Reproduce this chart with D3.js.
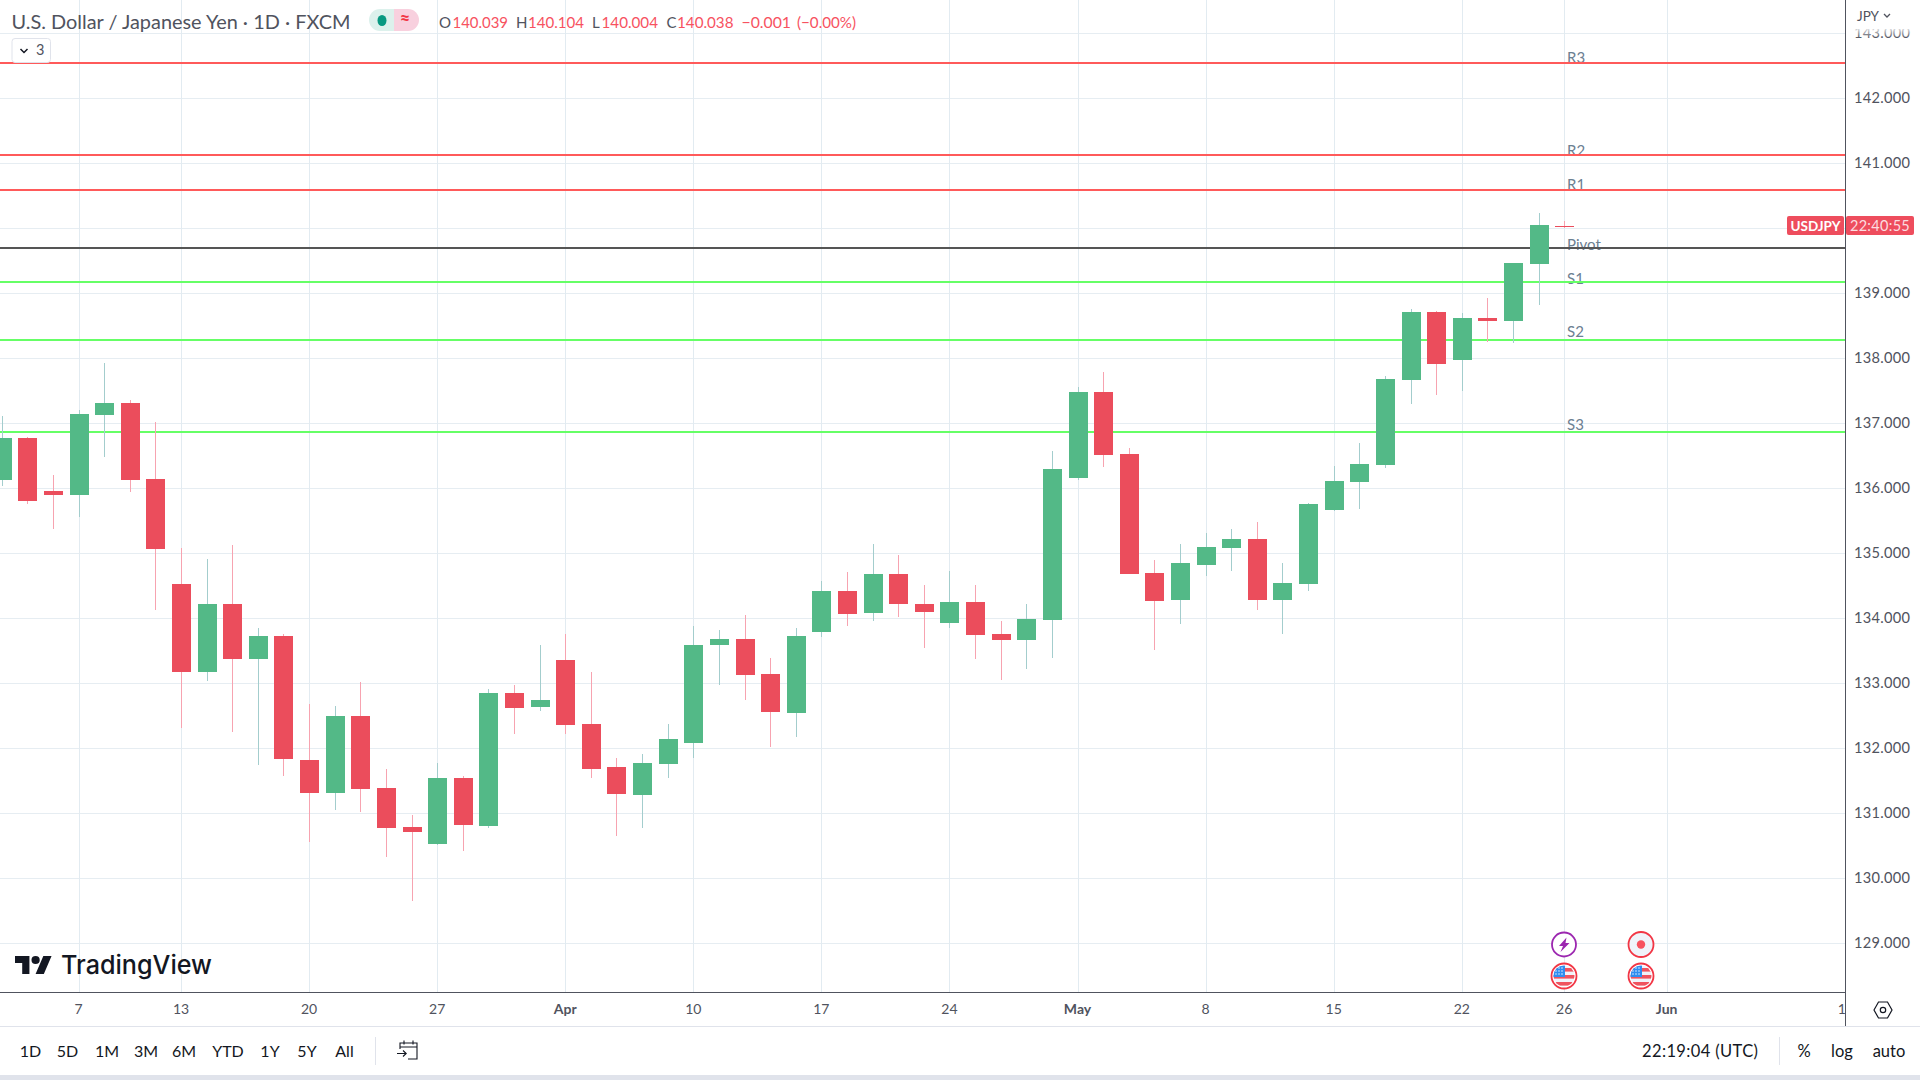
<!DOCTYPE html>
<html><head><meta charset="utf-8">
<style>html,body{margin:0;padding:0;background:#fff;overflow:hidden}svg{display:block}text{font-family:Lato,"Noto Sans",sans-serif}</style>
<script src="https://cdn.jsdelivr.net/npm/d3@7"></script>
</head><body><svg id="c" width="1920" height="1080"></svg>
<script>
const barDates=["03-02","03-03","03-06","03-07","03-08","03-09","03-10","03-13","03-14","03-15","03-16","03-17","03-20","03-21","03-22","03-23","03-24","03-27","03-28","03-29","03-30","03-31","04-03","04-04","04-05","04-06","04-07","04-10","04-11","04-12","04-13","04-14","04-17","04-18","04-19","04-20","04-21","04-24","04-25","04-26","04-27","04-28","05-01","05-02","05-03","05-04","05-05","05-08","05-09","05-10","05-11","05-12","05-15","05-16","05-17","05-18","05-19","05-22","05-23","05-24","05-25","05-26"];
const futureDates=["05-29","05-30","05-31","06-01","06-02","06-05","06-06","06-07","06-08","06-09","06-12"];
const opens=[136.13,136.77,135.96,135.90,137.13,137.31,136.14,134.53,133.17,134.22,133.37,133.73,131.82,131.31,132.49,131.39,130.79,130.53,131.54,130.81,132.85,132.62,133.36,132.37,131.70,131.28,131.76,132.08,133.57,133.67,133.13,132.54,133.79,134.42,134.07,134.67,134.22,133.93,134.25,133.76,133.67,133.97,136.16,137.48,136.53,134.70,134.27,134.82,135.08,135.22,134.28,134.53,135.67,136.10,136.36,137.67,138.71,137.96,138.61,138.57,139.45,140.039];
const closes=[136.77,135.80,135.90,137.14,137.31,136.13,135.07,133.17,134.22,133.37,133.73,131.84,131.31,132.49,131.37,130.77,130.71,131.54,130.82,132.85,132.62,132.73,132.36,131.68,131.28,131.77,132.14,133.59,133.67,133.11,132.54,133.73,134.42,134.07,134.67,134.21,134.10,134.25,133.74,133.67,133.99,136.30,137.48,136.51,134.68,134.27,134.84,135.10,135.22,134.28,134.54,135.76,136.11,136.37,137.68,138.71,137.91,138.61,138.57,139.47,140.05,140.038];
const highs=[137.11,136.79,136.20,137.20,137.93,137.36,137.01,135.07,134.91,135.13,133.85,133.76,132.67,132.65,133.02,131.68,130.96,131.77,131.56,132.91,132.97,133.59,133.76,133.17,131.85,131.90,132.37,133.87,133.81,134.05,133.39,133.84,134.57,134.71,135.14,134.97,134.50,134.73,134.50,133.96,134.22,136.57,137.56,137.79,136.62,134.90,135.14,135.31,135.37,135.48,134.85,135.77,136.34,136.70,137.73,138.76,138.73,138.70,138.93,139.47,140.24,140.104];
const lows=[136.03,135.76,135.37,135.55,136.48,135.94,134.13,132.30,133.03,132.24,131.73,131.57,130.55,131.05,131.02,130.32,129.65,130.51,130.42,130.77,132.21,132.57,132.21,131.53,130.64,130.77,131.53,131.84,132.97,132.73,132.02,132.17,133.71,133.87,133.96,134.01,133.54,133.85,133.37,133.04,133.22,133.39,136.13,136.33,134.68,133.51,133.90,134.65,134.73,134.13,133.76,134.42,135.64,135.67,136.31,137.30,137.44,137.50,138.25,138.24,138.82,140.004];
const priceTicks=[129,130,131,132,133,134,135,136,137,138,139,140,141,142,143];
const timeLabels=["7","13","20","27","Apr","10","17","24","May","8","15","22","26","Jun","12"];
const timeTickDates=["03-07","03-13","03-20","03-27","04-03","04-10","04-17","04-24","05-01","05-08","05-15","05-22","05-26","06-01","06-12"];
const monthLabels=["Apr","May","Jun"];
const levelNames=["R3","R2","R1","Pivot","S1","S2","S3"];
const levelValues=[142.54,141.12,140.59,139.69,139.17,138.28,136.87];
const levelColors=["#ff5a5a","#ff5a5a","#ff5a5a","#555555","#66ff66","#66ff66","#66ff66"];
const levelLabelShift=[-.5,1,0,2,2,-3,-2];
const rangeButtons=["1D","5D","1M","3M","6M","YTD","1Y","5Y","All"];
const rangeCenters=[30.5,67.5,107,146,184,228,270,307,344.5];

const svg=d3.select("#c");
const axisX=1845.5, axisY=992.5, stepX=25.615, firstX=1.7;
const allDates=barDates.concat(futureDates);
const x=d3.scalePoint().domain(allDates).range([firstX,firstX+stepX*(allDates.length-1)]);
const y=d3.scaleLinear().domain([129,143]).range([942.8,33.3]);
const snap=v=>Math.round(v)+.5;
const defs=svg.append("defs");
defs.append("clipPath").attr("id","plot").append("rect").attr("width",axisX).attr("height",axisY);
defs.append("clipPath").attr("id","paxis").append("rect").attr("x",axisX).attr("y",29).attr("width",80).attr("height",axisY-29);
defs.append("clipPath").attr("id","taxis").append("rect").attr("y",axisY).attr("width",axisX).attr("height",34);
const fade=defs.append("linearGradient").attr("id","fade").attr("x1",0).attr("x2",0).attr("y1",0).attr("y2",1);
fade.append("stop").attr("offset",0).attr("stop-color","#fff").attr("stop-opacity",.85);
fade.append("stop").attr("offset",1).attr("stop-color","#fff").attr("stop-opacity",0);
const AX="#50535e";

const plot=svg.append("g").attr("clip-path","url(#plot)");
plot.append("g").selectAll("line").data(priceTicks).join("line")
 .attr("x1",0).attr("x2",axisX).attr("y1",d=>snap(y(d))).attr("y2",d=>snap(y(d))).attr("stroke","#e6edf2");
plot.append("g").selectAll("line").data(timeTickDates).join("line")
 .attr("y1",0).attr("y2",axisY).attr("x1",d=>snap(x(d))).attr("x2",d=>snap(x(d))).attr("stroke","#e2ebf1");

// pivot labels under the lines
plot.append("g").selectAll("text").data(levelNames).join("text")
 .attr("x",1567).attr("y",(d,i)=>y(levelValues[i])+levelLabelShift[i])
 .attr("font-size",15).attr("fill","#6c8092").text(d=>d);
plot.append("g").selectAll("rect").data(levelValues).join("rect")
 .attr("x",0).attr("width",axisX).attr("y",d=>Math.round(y(d))-1).attr("height",2)
 .attr("fill",(d,i)=>levelColors[i]);

// candles
const cand=plot.append("g").attr("shape-rendering","crispEdges");
const idx=d3.range(barDates.length);
const isUp=i=>closes[i]>=opens[i];
cand.selectAll("line").data(idx).join("line")
 .attr("x1",i=>snap(x(barDates[i]))).attr("x2",i=>snap(x(barDates[i])))
 .attr("y1",i=>y(highs[i])).attr("y2",i=>y(lows[i]))
 .attr("stroke",i=>isUp(i)?"#a3cdcd":"#f7a3b0");
cand.selectAll("rect").data(idx).join("rect")
 .attr("x",i=>Math.round(x(barDates[i]))-9).attr("width",19)
 .attr("y",i=>Math.round(y(Math.max(opens[i],closes[i]))))
 .attr("height",i=>Math.max(1,Math.round(Math.abs(y(opens[i])-y(closes[i])))))
 .attr("fill",i=>isUp(i)?"#53b987":"#eb4d5c");

// axes frame
svg.append("line").attr("x1",0).attr("x2",axisX).attr("y1",axisY).attr("y2",axisY).attr("stroke",AX);
svg.append("line").attr("x1",axisX).attr("x2",axisX).attr("y1",0).attr("y2",1026).attr("stroke",AX);
svg.append("line").attr("x1",0).attr("x2",1920).attr("y1",1026.5).attr("y2",1026.5).attr("stroke","#e0e3eb");
svg.append("rect").attr("y",1075).attr("width",1920).attr("height",5).attr("fill","#e0e3eb");

// price axis
svg.append("g").attr("clip-path","url(#paxis)").selectAll("text").data(priceTicks).join("text")
 .attr("x",1854).attr("y",d=>y(d)).attr("dy","0.35em").attr("font-size",14.6).attr("letter-spacing",.3).attr("fill",AX).text(d=>d3.format(".3f")(d));
svg.append("rect").attr("x",1850).attr("y",28).attr("width",60).attr("height",10).attr("fill","url(#fade)");
svg.append("text").attr("x",1857).attr("y",21).attr("font-size",13.5).attr("fill",AX).text("JPY");
svg.append("path").attr("d","M1884 14l3 3 3-3").attr("fill","none").attr("stroke",AX).attr("stroke-width",1.3);

// time axis
svg.append("g").attr("clip-path","url(#taxis)").selectAll("text").data(timeTickDates).join("text")
 .attr("x",d=>x(d)).attr("y",1009).attr("dy","0.35em").attr("text-anchor","middle")
 .attr("font-size",14).attr("font-weight",(d,i)=>monthLabels.includes(timeLabels[i])?700:400)
 .attr("fill",AX).text((d,i)=>timeLabels[i]);

// header
svg.append("text").attr("x",11.5).attr("y",28.5).attr("font-size",18.5).attr("fill","#50535e")
 .attr("textLength",339).attr("lengthAdjust","spacingAndGlyphs").text("U.S. Dollar / Japanese Yen · 1D · FXCM");
svg.append("path").attr("d","M394 9h-14a11 11 0 0 0 0 22h14z").attr("fill","#dcf1ec");
svg.append("path").attr("d","M394 9h14a11 11 0 0 1 0 22h-14z").attr("fill","#f8d0de");
svg.append("ellipse").attr("cx",382).attr("cy",20.5).attr("rx",4.5).attr("ry",5.5).attr("fill","#089981");
svg.append("text").attr("x",405).attr("y",25).attr("text-anchor","middle").attr("font-size",18).attr("font-weight",700).attr("fill","#f23645").text("≈");
const ohlcPieces=[["O",439,null,AX],["140.039",452.5,55.5,"#f7525f"],["H",516,null,AX],["140.104",528,56,"#f7525f"],["L",592,null,AX],["140.004",601.5,56.5,"#f7525f"],["C",666.5,null,AX],["140.038",677,56.5,"#f7525f"],["−0.001",741.5,49.5,"#f7525f"],["(−0.00%)",797,59,"#f7525f"]];
svg.append("g").selectAll("text").data(ohlcPieces).join("text")
 .attr("x",d=>d[1]).attr("y",28).attr("font-size",15).attr("fill",d=>d[3])
 .each(function(d){if(d[2])d3.select(this).attr("textLength",d[2]).attr("lengthAdjust","spacingAndGlyphs")}).text(d=>d[0]);
svg.append("rect").attr("x",12).attr("y",38.5).attr("width",38.5).attr("height",24).attr("rx",3).attr("fill","#fff").attr("stroke","#e0e3eb");
svg.append("path").attr("d","M20.5 49l3.5 3.5 3.5-3.5").attr("fill","none").attr("stroke","#131722").attr("stroke-width",1.5);
svg.append("text").attr("x",36).attr("y",55).attr("font-size",14.5).attr("fill",AX).text("3");
plot.append("rect").attr("y",Math.round(y(142.54))-1).attr("x",0).attr("width",60).attr("height",2).attr("fill","#ff5a5a");

// last price tags
svg.append("rect").attr("x",1787).attr("y",216).attr("width",57).attr("height",19).attr("rx",2).attr("fill","#ee4d5d");
svg.append("rect").attr("x",1846).attr("y",216).attr("width",68).attr("height",19).attr("rx",2).attr("fill","#ee4d5d");
svg.append("text").attr("x",1815.5).attr("y",230.5).attr("text-anchor","middle").attr("font-size",13.5).attr("font-weight",700).attr("fill","#fff").text("USDJPY");
svg.append("text").attr("x",1880).attr("y",230.5).attr("text-anchor","middle").attr("font-size",14.5).attr("fill","#fbdde0").attr("letter-spacing",.3).text("22:40:55");

// logo
const logo=svg.append("g").attr("transform","translate(15,952) scale(1.03,1)");
logo.append("path").attr("d","M14 22H7V11H0V4h14v18zM28 22h-8l7.5-18h8L28 22z").attr("fill","#131722");
logo.append("circle").attr("cx",20).attr("cy",8).attr("r",4).attr("fill","#131722");
svg.append("text").attr("x",61).attr("y",974).attr("style","font-family:Inter").attr("font-size",26).attr("font-weight",500).attr("fill","#131722")
 .attr("textLength",151).attr("lengthAdjust","spacingAndGlyphs").text("TradingView");

// event icons
function flag(cx,cy){
 const g=svg.append("g").attr("transform",`translate(${cx},${cy})`);
 const id="f"+cx;
 defs.append("clipPath").attr("id",id).append("circle").attr("r",10.5);
 g.append("circle").attr("r",12.5).attr("fill","#fff").attr("stroke","#f23645").attr("stroke-width",1.8);
 const c=g.append("g").attr("clip-path",`url(#${id})`);
 c.append("rect").attr("x",-11).attr("y",-11).attr("width",22).attr("height",22).attr("fill","#f0f3fa");
 [-8,-1,6].forEach(s=>c.append("rect").attr("x",-11).attr("y",s).attr("width",22).attr("height",3.6).attr("fill","#f0535f"));
 c.append("rect").attr("x",-11).attr("y",-11).attr("width",12).attr("height",12).attr("fill","#2f8df0");
 [-8,-5,-2].forEach(a=>[-8,-5,-2].forEach(b=>c.append("circle").attr("cx",a).attr("cy",b).attr("r",.8).attr("fill","#dcecff")));
}
const b1=svg.append("g").attr("transform","translate(1564,944.5)");
b1.append("circle").attr("r",12).attr("fill","#fff").attr("stroke","#9c27b0").attr("stroke-width",1.8);
b1.append("path").attr("d","M2.5 -7L-5 1.5h4l-2.5 6L5.5 -1.5h-4z").attr("fill","#9c27b0");
const b2=svg.append("g").attr("transform","translate(1641,944.5)");
b2.append("circle").attr("r",12.5).attr("fill","#f0f3fa").attr("stroke","#f23645").attr("stroke-width",1.8);
b2.append("circle").attr("r",4.2).attr("fill","#f7525f");
flag(1564,976); flag(1641,976);

// settings
svg.append("path").attr("d","M1874 1010l4.5-8h9l4.5 8-4.5 8h-9z").attr("fill","none").attr("stroke","#131722").attr("stroke-width",1.2);
svg.append("circle").attr("cx",1883).attr("cy",1010).attr("r",2.7).attr("fill","none").attr("stroke","#131722").attr("stroke-width",1.2);

// footer
svg.append("g").selectAll("text").data(rangeButtons).join("text")
 .attr("x",(d,i)=>rangeCenters[i]).attr("y",1056.5).attr("text-anchor","middle").attr("font-size",16).attr("fill","#131722").text(d=>d);
svg.append("line").attr("x1",375.5).attr("x2",375.5).attr("y1",1037).attr("y2",1065).attr("stroke","#e0e3eb");
svg.append("path").attr("d","M400 1049v-6h17v16h-7M400 1047h17M404 1040.5v4M413 1040.5v4M397 1053.5h9M403 1050.5l3.2 3-3.2 3M410 1059h-2")
 .attr("fill","none").attr("stroke","#131722").attr("stroke-width",1.1);
svg.append("text").attr("x",1700).attr("y",1056.5).attr("text-anchor","middle").attr("font-size",16.5).attr("fill","#131722").attr("textLength",116).text("22:19:04 (UTC)");
svg.append("line").attr("x1",1779.5).attr("x2",1779.5).attr("y1",1037).attr("y2",1065).attr("stroke","#e0e3eb");
[["%",1804],["log",1842],["auto",1889]].forEach(d=>svg.append("text").attr("x",d[1]).attr("y",1056.5).attr("text-anchor","middle").attr("font-size",16.5).attr("fill","#131722").text(d[0]));
</script></body></html>
